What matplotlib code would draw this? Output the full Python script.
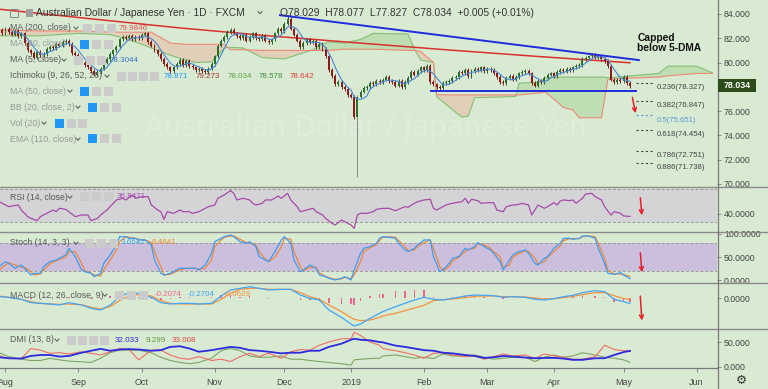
import numpy as np
import pandas as pd
import matplotlib
matplotlib.use("Agg")
import matplotlib.pyplot as plt
from matplotlib.patches import Rectangle
from matplotlib.lines import Line2D

# ---------------- data ----------------
# daily closes, bar 0 = 30 Jul 2018 ... bar 199 = 3 May 2019
closes = [
    82.7, 82.4, 82.8, 82.5, 82.3, 82.6, 82.2, 82.4, 81.6, 81.0,
    80.8, 80.4, 80.9, 80.6, 80.7, 81.1, 81.3, 81.2, 81.5, 81.4,
    81.7, 81.8, 81.5, 80.8, 80.6, 80.3, 80.0, 79.8, 79.6, 79.3,
    79.0, 79.2, 79.5, 80.0, 80.3, 80.7, 81.0, 81.3, 81.9, 82.1,
    82.0, 82.2, 81.9, 82.1, 82.0, 82.3, 82.4, 81.7, 81.4, 81.0,
    80.7, 80.3, 79.9, 79.6, 79.3, 79.6, 79.9, 80.2, 79.8, 80.1,
    79.7, 79.6, 79.4, 79.5, 79.3, 79.2, 79.5, 79.9, 80.5, 81.4,
    81.8, 82.1, 82.5, 82.7, 82.4, 82.2, 82.0, 82.3, 81.8, 82.1,
    82.4, 82.0, 81.9, 82.2, 81.8, 81.7, 81.9, 82.4, 82.8, 82.6,
    83.2, 83.6, 82.8, 82.3, 81.8, 81.3, 81.6, 81.9, 81.7, 81.8,
    81.3, 81.5, 81.1, 80.5, 79.4, 78.9, 78.2, 78.4, 78.0, 77.8,
    77.3, 77.2, 75.5, 77.2, 77.6, 77.9, 78.0, 78.3, 78.2, 78.5,
    78.4, 78.6, 78.8, 78.5, 78.4, 78.1, 78.5, 78.0, 78.4, 78.7,
    79.2, 79.0, 79.3, 79.6, 79.4, 79.7, 78.4, 78.2, 78.0, 77.9,
    78.3, 78.4, 78.5, 78.7, 78.8, 79.2, 79.1, 79.4, 78.9, 79.3,
    79.5, 79.4, 79.6, 79.3, 79.5, 79.4, 79.1, 78.8, 78.4, 78.3,
    78.7, 78.9, 78.6, 78.8, 79.1, 79.2, 79.3, 79.1, 78.3, 78.1,
    78.5, 78.4, 78.7, 79.0, 79.1, 78.9, 79.2, 79.4, 79.3, 79.5,
    79.4, 79.6, 79.7, 79.8, 80.3, 80.4, 80.5, 80.6, 80.4, 80.5,
    80.3, 80.1, 79.7, 78.6, 78.4, 78.6, 78.5, 78.8, 78.3, 78.034,
]
first_open = 82.6
wick = 0.15
crash_bar, crash_low = 113, 70.6
peak_bar, peak_high = 91, 83.9

# Ichimoku cloud (already shifted forward)
cloud_x = [0, 13, 25, 35, 41, 48, 54, 59, 62, 67,
           71, 73, 77, 83, 90, 99, 101, 104, 109, 114,
           118, 129, 131, 133, 137, 138, 144, 146, 148, 150,
           163, 164, 171, 172, 175, 178, 181, 183, 190, 192,
           197, 208, 211, 220, 225]
span_a = [82.2, 82.2, 82.4, 82.3, 81.9, 81.2, 80.6, 80.2, 80.0, 80.05,
          81.2, 81.25, 81.2, 80.4, 80.3, 81.05, 81.4, 81.7, 81.6, 81.9,
          82.4, 82.35, 81.1, 80.2, 80.0, 77.2, 75.9, 75.5, 75.6, 77.1,
          77.2, 78.3, 78.4, 78.7, 78.8, 78.8, 78.8, 78.8, 78.8, 78.75,
          78.85, 79.1, 79.7, 79.7, 79.15]
span_b = [82.7, 82.6, 82.6, 82.5, 82.5, 82.5, 81.6, 81.5, 81.5, 81.5,
          81.5, 81.05, 81.05, 81.0, 81.0, 81.0, 81.0, 81.0, 81.1, 81.1,
          81.1, 81.0, 81.0, 80.9, 80.0, 77.35, 77.33, 77.33, 77.33, 77.33,
          77.33, 77.33, 77.5, 77.6, 77.0, 76.3, 76.1, 75.45, 75.45, 78.6,
          78.7, 78.8, 78.9, 79.1, 79.1]

ma200_x = [0, 29, 57, 85, 112, 142, 171, 199]
ma200_v = [84.39, 83.6, 82.85, 82.2, 81.64, 81.03, 80.48, 79.98]

resist_x = [88.6, 201.8]
resist_y = [83.9, 80.2]
support_x = [136.2, 200.8]
support_y = [77.67, 77.67]

fib_ratio = ["0.236", "0.382", "0.5", "0.618", "0.786", "0.886"]
fib_price = [78.327, 76.847, 75.651, 74.454, 72.751, 71.738]

rsi_x = [0, 2, 3, 6, 7, 9, 10, 12, 13, 15, 17, 18, 19, 21, 22, 24, 26, 28, 29, 31,
         32, 34, 35, 37, 39, 40, 42, 43, 45, 47, 48, 50, 51, 52, 53, 55, 57, 58, 60, 61,
         63, 64, 66, 68, 69, 71, 73, 74, 75, 77, 79, 80, 81, 83, 84, 86, 88, 89, 91, 92,
         94, 95, 97, 99, 100, 102, 103, 105, 106, 108, 109, 111, 112, 113, 114, 116, 118, 119, 121, 123,
         125, 126, 128, 129, 131, 132, 134, 136, 137, 138, 139, 141, 142, 144, 146, 147, 148, 149, 151, 152,
         154, 156, 157, 159, 160, 162, 163, 165, 167, 168, 169, 170, 172, 173, 175, 176, 177, 178, 180, 181,
         182, 184, 185, 187, 188, 190, 191, 193, 194, 196, 197, 199]
rsi_v = [54.6, 50.6, 48.6, 50.6, 44.5, 36.5, 34.4, 31.6, 36.5, 40.5, 44.5, 42.5, 46.6, 45.3, 42.5, 36.5, 38.5, 38.5, 31.6, 34.4,
         38.5, 44.5, 48.6, 56.7, 58.7, 56.7, 62.7, 58.7, 60.7, 60.7, 50.6, 44.5, 42.5, 33.2, 42.5, 40.5, 44.5, 42.5, 42.5, 40.5,
         42.5, 44.5, 48.6, 50.6, 58.7, 62.7, 68.0, 64.7, 56.7, 58.7, 56.7, 52.6, 50.6, 52.6, 56.7, 56.7, 61.5, 58.7, 64.7, 56.7,
         48.6, 42.5, 44.5, 46.6, 42.5, 38.5, 34.4, 28.4, 26.4, 32.4, 30.4, 26.4, 22.3, 38.5, 40.5, 40.5, 42.5, 45.3, 46.5, 46.6,
         43.7, 45.3, 48.6, 47.8, 52.6, 54.6, 56.7, 57.5, 46.6, 44.5, 46.6, 50.6, 51.8, 53.4, 54.6, 58.7, 52.6, 57.5, 55.9, 52.6,
         53.4, 53.4, 44.5, 42.5, 48.6, 50.6, 50.6, 52.6, 50.6, 38.5, 44.5, 50.6, 46.6, 48.6, 53.4, 50.6, 55.4, 56.7, 55.9, 56.7,
         52.6, 58.7, 63.9, 64.7, 60.7, 56.7, 48.6, 38.5, 42.5, 40.5, 37.3, 36.8]

stoch_x = [0, 2, 3, 5, 7, 8, 10, 11, 13, 14, 16, 18, 19, 21, 22, 24, 26, 27, 29, 30,
           32, 33, 35, 37, 38, 40, 41, 43, 44, 46, 48, 49, 51, 52, 54, 55, 57, 59, 60, 62,
           63, 65, 67, 68, 70, 71, 73, 74, 76, 78, 79, 81, 82, 84, 85, 87, 89, 90, 92, 93,
           95, 96, 98, 100, 101, 103, 104, 106, 108, 109, 111, 112, 114, 115, 117, 119, 120, 121, 123, 125,
           126, 128, 129, 131, 132, 134, 136, 137, 139, 140, 142, 143, 145, 147, 148, 150, 151, 153, 155, 156,
           158, 159, 161, 162, 164, 166, 167, 169, 170, 172, 173, 175, 177, 178, 180, 181, 183, 184, 186, 188,
           189, 191, 192, 194, 196, 197, 199]
stoch_k = [29.4, 40.1, 36.5, 25.8, 32.9, 25.8, 11.5, 15.1, 15.1, 29.4, 40.1, 43.6, 47.2, 54.4, 68.6, 50.8, 22.2, 18.6, 15.1, 7.9,
           15.1, 36.5, 54.4, 75.8, 93.6, 93.6, 90.0, 90.0, 86.5, 86.5, 75.8, 43.6, 15.1, 11.5, 15.1, 18.6, 25.8, 25.8, 25.8, 25.8,
           22.2, 32.9, 57.9, 82.9, 90.0, 93.6, 97.2, 93.6, 82.9, 79.3, 82.9, 72.2, 50.8, 43.6, 40.1, 61.5, 86.5, 93.6, 79.3, 43.6,
           18.6, 22.2, 32.9, 25.8, 11.5, 7.9, 4.4, 0.8, 4.4, 7.9, 0.8, 22.2, 57.9, 68.6, 72.2, 79.3, 90.0, 93.6, 92.2, 90.0,
           79.3, 65.1, 61.5, 68.6, 75.8, 86.5, 86.5, 50.8, 18.6, 22.2, 36.5, 47.2, 50.8, 68.6, 65.1, 72.2, 80.8, 72.2, 65.1, 57.9,
           40.1, 22.2, 43.6, 54.4, 61.5, 65.1, 57.9, 36.5, 32.9, 47.2, 50.8, 68.6, 79.3, 90.0, 90.0, 87.9, 90.0, 95.0, 95.0, 90.0,
           68.6, 36.5, 15.1, 12.9, 16.5, 11.5, 3.7]
stoch_d = [22.2, 32.9, 37.9, 32.9, 27.9, 27.9, 18.6, 11.5, 13.7, 22.2, 35.1, 42.2, 45.1, 49.4, 61.5, 61.5, 36.5, 20.8, 15.1, 11.5,
           9.4, 22.2, 43.6, 65.1, 82.9, 93.6, 92.2, 90.0, 87.9, 86.5, 80.8, 61.5, 29.4, 11.5, 12.9, 16.5, 22.2, 25.8, 25.8, 25.8,
           23.6, 25.8, 43.6, 72.2, 86.5, 92.2, 95.0, 95.0, 87.9, 80.8, 80.8, 75.8, 61.5, 45.1, 40.1, 49.4, 72.2, 90.0, 87.9, 61.5,
           29.4, 20.8, 27.9, 27.9, 16.5, 7.9, 5.8, 2.2, 3.0, 6.5, 3.7, 11.5, 40.1, 61.5, 70.1, 75.8, 85.1, 92.2, 93.6, 92.2,
           85.1, 72.2, 63.6, 65.1, 72.2, 80.8, 86.5, 68.6, 29.4, 20.8, 29.4, 41.5, 49.4, 61.5, 66.5, 68.6, 77.9, 75.8, 68.6, 61.5,
           50.8, 27.9, 32.9, 49.4, 57.9, 63.6, 61.5, 47.2, 35.1, 40.1, 49.4, 61.5, 73.6, 85.1, 89.3, 89.3, 89.3, 93.6, 95.0, 93.6,
           79.3, 47.2, 22.2, 13.7, 13.7, 12.2, 8.5]

osc_x = [0, 3, 7, 10, 13, 16, 19, 22, 26, 29,
         32, 35, 38, 41, 44, 48, 51, 54, 57, 60,
         63, 67, 70, 73, 76, 79, 82, 85, 89, 92,
         95, 98, 101, 104, 108, 111, 112, 114, 117, 120,
         121, 125, 128, 131, 134, 137, 140, 143, 147, 150,
         153, 156, 159, 162, 166, 169, 172, 175, 178, 181,
         184, 188, 191, 194, 197, 199]
macd_line = [0.067, 0.033, -0.067, -0.233, -0.267, -0.300, -0.350, -0.233, -0.350, -0.517,
             -0.600, -0.350, 0.067, 0.267, 0.233, 0.033, -0.233, -0.300, -0.267, -0.267,
             -0.300, -0.267, 0.100, 0.400, 0.483, 0.567, 0.483, 0.400, 0.433, 0.433,
             0.150, -0.017, -0.100, -0.600, -0.967, -1.300, -1.400, -1.300, -1.017, -0.767,
             -0.683, -0.433, -0.267, -0.100, 0.033, -0.067, -0.100, -0.017, 0.100, 0.150,
             0.133, 0.117, 0.033, 0.067, 0.033, -0.067, -0.100, -0.033, 0.067, 0.133,
             0.267, 0.367, 0.317, -0.067, -0.183, -0.2704]
macd_signal = [0.100, 0.033, -0.067, -0.183, -0.267, -0.300, -0.317, -0.300, -0.333, -0.467,
               -0.550, -0.433, -0.133, 0.100, 0.167, 0.100, -0.133, -0.267, -0.300, -0.300,
               -0.300, -0.300, -0.067, 0.233, 0.433, 0.483, 0.483, 0.433, 0.433, 0.433,
               0.267, 0.067, -0.067, -0.350, -0.683, -0.983, -1.067, -1.133, -1.100, -0.967,
               -0.900, -0.767, -0.633, -0.500, -0.367, -0.133, -0.083, -0.050, 0.017, 0.083,
               0.100, 0.100, 0.067, 0.067, 0.050, 0.000, -0.050, -0.033, 0.017, 0.083,
               0.167, 0.267, 0.267, 0.117, -0.033, -0.0629]
adx = [19.5, 17.5, 16.9, 22.1, 24.0, 24.0, 20.8, 22.1, 28.6, 32.5,
       36.3, 32.5, 35.0, 35.7, 35.0, 32.5, 33.7, 40.2, 41.5, 37.0,
       30.5, 33.7, 37.0, 40.2, 38.3, 33.7, 32.5, 30.5, 27.3, 28.6,
       28.6, 32.5, 32.5, 40.2, 46.7, 54.5, 56.5, 54.5, 53.2, 50.0,
       49.3, 42.8, 40.2, 37.0, 33.7, 32.5, 28.6, 27.3, 24.0, 22.1,
       18.2, 19.5, 22.1, 20.8, 18.8, 17.5, 18.2, 18.2, 16.9, 14.3,
       14.3, 17.5, 17.5, 24.0, 29.9, 32.033]
di_plus = [28.6, 20.8, 15.6, 13.0, 13.0, 17.5, 14.3, 11.7, 10.4, 9.1,
           17.5, 28.6, 33.7, 33.7, 33.7, 28.6, 19.5, 13.0, 9.1, 6.5,
           9.1, 17.5, 32.5, 37.0, 32.5, 22.1, 19.5, 19.5, 22.1, 15.6,
           15.6, 13.0, 11.0, 9.1, 6.5, 3.9, 14.3, 15.6, 16.9, 17.5,
           22.1, 24.0, 20.8, 17.5, 19.5, 16.9, 26.0, 22.1, 22.1, 24.0,
           19.5, 15.6, 17.5, 19.5, 19.5, 11.0, 19.5, 24.0, 19.5, 22.1,
           28.6, 24.0, 19.5, 17.5, 14.3, 9.299]
di_minus = [22.1, 16.9, 16.9, 37.0, 33.7, 27.3, 28.6, 26.0, 30.5, 27.3,
            24.0, 30.5, 37.0, 35.0, 14.3, 33.7, 33.7, 24.0, 17.5, 15.6,
            20.8, 13.0, 15.6, 11.0, 20.8, 27.3, 20.8, 27.3, 17.5, 30.5,
            35.0, 33.7, 43.5, 50.0, 56.5, 56.5, 69.4, 63.0, 50.0, 43.5,
            37.0, 32.5, 28.6, 24.0, 17.5, 27.3, 28.6, 24.0, 20.8, 22.1,
            15.6, 20.8, 26.0, 22.1, 24.0, 16.9, 26.0, 22.1, 19.5, 15.6,
            15.6, 20.8, 43.5, 35.0, 32.5, 33.008]

month_bars = [2, 25, 45, 68, 90, 111, 134, 154, 175, 197, 220]
month_labels = ["Aug", "Sep", "Oct", "Nov", "Dec", "2019", "Feb", "Mar", "Apr", "May", "Jun"]

# ---------------- figure ----------------
W, H = 768, 389
BG = "#d9ead3"
fig = plt.figure(figsize=(W / 100, H / 100), dpi=100, facecolor=BG)
XL, XR = 0.265, 226.45
AXW = 717
SANS = "Liberation Sans"


def fx(x):
    return x / W


def fy(y):
    return 1 - y / H


def panel(top, bottom):
    ax = fig.add_axes([0, 1 - bottom / H, AXW / W, (bottom - top) / H])
    ax.set_facecolor(BG)
    for s in ax.spines.values():
        s.set_visible(False)
    ax.set_xlim(XL, XR)
    ax.tick_params(axis="x", bottom=False, labelbottom=False)
    ax.yaxis.tick_right()
    ax.tick_params(axis="y", right=True, left=False, length=3, width=0.6,
                   color="#777777", labelsize=6.3, labelcolor="#444444", pad=2)
    return ax


# ---- price panel ----
ax = panel(0, 186)
ax.set_ylim(69.83, 85.15)
pticks = [70, 72, 74, 76, 80, 82, 84]
ax.set_yticks(pticks)
ax.set_yticklabels([f"{v:.3f}" for v in pticks], fontfamily=SANS)

ax.text(0.51, 0.31, "Australian Dollar / Japanese Yen", transform=ax.transAxes, fontsize=20,
        color="white", alpha=0.16, ha="center", va="center", zorder=0.2)

cx = np.array(cloud_x, float)
ca = np.array(span_a)
cb = np.array(span_b)
ax.fill_between(cx, ca, cb, where=ca >= cb, interpolate=True, color="#bfdeb3", lw=0, zorder=1)
ax.fill_between(cx, ca, cb, where=ca < cb, interpolate=True, color="#e2cfb8", lw=0, zorder=1)
ax.plot(cx, ca, color="#82c074", lw=0.8, zorder=1.5)
ax.plot(cx, cb, color="#ea8a78", lw=0.8, zorder=1.5)

ax.plot(ma200_x, ma200_v, color="#d9302c", lw=1.1, zorder=2)

c = np.array(closes)
o = np.array([first_open] + closes[:-1])
idx = np.arange(len(c))
hi = np.maximum(o, c) + wick
lo = np.minimum(o, c) - wick
lo[crash_bar] = crash_low
hi[peak_bar] = peak_high
up = c >= o
cols = np.where(up, "#2f6e2f", "#8e1b1b")
wcols = np.where(up, "#2f5a2f", "#6e2020").astype(object)
wcols[crash_bar] = "#888888"
ax.vlines(idx, lo, hi, colors=list(wcols), lw=0.7, zorder=3)
ax.bar(idx, np.maximum(np.abs(c - o), 0.05), bottom=np.minimum(o, c), width=0.62,
       color=list(cols), lw=0, zorder=3.2)

ma5 = pd.Series(closes).rolling(5).mean()
ax.plot(idx, ma5, color="#4a86d4", lw=0.8, zorder=3.5)

ax.plot(resist_x, resist_y, color="#1f2bdc", lw=1.4, zorder=4)
ax.plot(support_x, support_y, color="#1f2bdc", lw=1.4, zorder=4)

for r, p in zip(fib_ratio, fib_price):
    col = "#5b9bd5" if r == "0.5" else "#444444"
    ax.plot([200.9, 206.3], [p, p], color=col, lw=0.8, ls=(0, (2, 2.2)), zorder=4)
    ax.annotate(f"{r}({p:.3f})", xy=(207.5, p), xytext=(0, -5), textcoords="offset pixels",
                fontsize=5.6, color=col, ha="left", va="center", fontfamily=SANS, zorder=5)

ax.annotate("", xy=(200.9, 75.6), xytext=(199.6, 77.35),
            arrowprops=dict(arrowstyle="->", color="#e8202a", lw=1.1, mutation_scale=7), zorder=5)
ax.text(201.3, 81.6, "Capped\nbelow 5-DMA", fontsize=7.4, fontweight="bold", fontfamily=SANS,
        color="#111111", ha="left", va="center", linespacing=1.05, zorder=5)

# ---- RSI ----
axr = panel(187, 231)
axr.set_ylim(19.1, 72.4)
axr.axhspan(30, 70, color="#d4d4d7", lw=0, zorder=0.5)
for lv in (30, 70):
    axr.axhline(lv, color="#9a9a9a", lw=0.7, ls=(0, (3, 2)), zorder=1)
axr.plot(rsi_x, rsi_v, color="#a64aa8", lw=0.9, zorder=2)
axr.set_yticks([40])
axr.set_yticklabels(["40.0000"], fontfamily=SANS)
axr.annotate("", xy=(202.8, 34.8), xytext=(202.2, 62.7),
             arrowprops=dict(arrowstyle="->", color="#e8202a", lw=1.1, mutation_scale=7))

# ---- Stoch ----
axs = panel(232, 283)
axs.set_ylim(-5.7, 103.6)
axs.axhspan(20, 80, color="#ccbfdd", lw=0, zorder=0.5)
for lv in (20, 80):
    axs.axhline(lv, color="#9a9a9a", lw=0.7, ls=(0, (3, 2)), zorder=1)
axs.plot(stoch_x, stoch_k, color="#3d9df5", lw=0.9, zorder=2.1)
axs.plot(stoch_x, stoch_d, color="#f0873a", lw=0.9, zorder=2)
axs.set_yticks([0, 50, 100])
axs.set_yticklabels(["0.0000", "50.0000", "100.0000"], fontfamily=SANS)
axs.annotate("", xy=(202.8, 11.4), xytext=(202.2, 65),
             arrowprops=dict(arrowstyle="->", color="#e8202a", lw=1.1, mutation_scale=7))

# ---- MACD ----
axm = panel(283, 328)
axm.set_ylim(-1.5, 0.75)
hist = np.array(macd_line) - np.array(macd_signal)
axm.bar(osc_x, hist, width=0.5, color="#f06292", lw=0, zorder=1)
axm.plot(osc_x, macd_line, color="#42a5f5", lw=0.9, zorder=2.1)
axm.plot(osc_x, macd_signal, color="#f5923e", lw=0.9, zorder=2)
axm.set_yticks([0])
axm.set_yticklabels(["0.0000"], fontfamily=SANS)
axm.annotate("", xy=(202.8, -1.265), xytext=(202.2, 0.235),
             arrowprops=dict(arrowstyle="->", color="#e8202a", lw=1.1, mutation_scale=7))

# ---- DMI ----
axd = panel(329, 368)
axd.set_ylim(-2, 76)
axd.plot(osc_x, di_plus, color="#7fa563", lw=0.8, zorder=2)
axd.plot(osc_x, di_minus, color="#ee6e62", lw=0.8, zorder=2.1)
axd.plot(osc_x, adx, color="#2a2ade", lw=1.3, zorder=2.2)
axd.set_yticks([0, 50])
axd.set_yticklabels(["0.000", "50.000"], fontfamily=SANS)
axd.set_xticks(month_bars)
axd.set_xticklabels(month_labels, fontfamily=SANS)
axd.tick_params(axis="x", bottom=True, labelbottom=True, length=3, width=0.6, color="#777777",
                labelsize=6.4, labelcolor="#444444", pad=4.5)

# ---- separators / frame ----
for yy in (186.5, 231.5, 282.5, 328.5):
    fig.add_artist(Line2D([0, 1], [fy(yy), fy(yy)], color="#8a8a8a", lw=1.0,
                          transform=fig.transFigure))
fig.add_artist(Line2D([0, fx(AXW)], [fy(368.3), fy(368.3)], color="#7a7a7a", lw=0.9,
                      transform=fig.transFigure))
fig.add_artist(Line2D([fx(717.5), fx(717.5)], [0, 1], color="#7a7a7a", lw=0.9,
                      transform=fig.transFigure))

# last price tag
fig.add_artist(Rectangle((fx(718), fy(92)), 38 / W, 13 / H, transform=fig.transFigure,
                         fc="#2c4c1c", ec="none", zorder=6))
fig.text(fx(737), fy(85.5), "78.034", fontsize=6.4, fontweight="bold", color="white",
         ha="center", va="center", fontfamily=SANS, zorder=7)

fig.text(fx(741), fy(380), "\u2699", fontsize=9, color="#333333", ha="center", va="center")

# ---- header & legends ----
def icon(x, y, col):
    fig.add_artist(Rectangle((fx(x), fy(y + 4.5)), 8.5 / W, 9 / H, transform=fig.transFigure,
                             fc=col, ec="none", zorder=6))


def chevron(x, y):
    fig.add_artist(Line2D([fx(x - 2), fx(x), fx(x + 2)], [fy(y - 1), fy(y + 1.3), fy(y - 1)],
                          color="#555555", lw=0.7, transform=fig.transFigure, zorder=6))


fig.add_artist(Rectangle((fx(10), fy(16.5)), 8 / W, 8 / H, transform=fig.transFigure,
                         fc="none", ec="#888888", lw=0.7, zorder=6))
fig.add_artist(Rectangle((fx(26), fy(16.5)), 7 / W, 8 / H, transform=fig.transFigure,
                         fc="#a0a0a0", ec="none", zorder=6))
fig.text(fx(36), fy(12.5), "Australian Dollar / Japanese Yen \u00b7 1D \u00b7 FXCM",
         fontsize=7.4, color="#333333", va="center", fontfamily=SANS, zorder=7)
chevron(260, 12.5)
fig.text(fx(280), fy(12.5), "O78.029  H78.077  L77.827  C78.034  +0.005 (+0.01%)",
         fontsize=7.4, color="#333333", va="center", fontfamily=SANS, zorder=7)

GRAY_IC, BLUE_IC = "#cbcbcb", "#2196f3"
rows = [
    (28, "MA (200, close)", "#5a5a5a", 76, [(83, 0), (95, 0), (107, 0)], [(119, "79.9846", "#e05050")]),
    (44, "MA (20, close)", "#9a9a9a", None, [(80, 1), (92, 0), (104, 0)], []),
    (60, "MA (5, close)", "#5a5a5a", 64, [(74, 0), (86, 0), (97, 0)], [(110, "78.3044", "#3a6fc8")]),
    (76, "Ichimoku (9, 26, 52, 26)", "#5a5a5a", 107, [(117, 0), (128, 0), (139, 0), (150, 0)],
     [(164, "78.871", "#2196f3"), (196, "79.273", "#a83232"), (228, "78.034", "#5ea045"),
      (259, "78.578", "#3f8f3a"), (290, "78.642", "#e53935")]),
    (91, "MA (50, close)", "#9a9a9a", 70, [(80, 1), (92, 0), (104, 0)], []),
    (107, "BB (20, close, 2)", "#9a9a9a", 78, [(88, 1), (100, 0), (112, 0)], []),
    (123, "Vol (20)", "#9a9a9a", 44, [(55, 1), (67, 0), (78, 0)], []),
    (139, "EMA (110, close)", "#9a9a9a", 78, [(88, 1), (100, 0), (112, 0)], []),
    (197, "RSI (14, close)", "#5a5a5a", 70, [(80, 0), (92, 0), (104, 0)], [(117, "36.8471", "#a64aa8")]),
    (243, "Stoch (14, 3, 3)", "#5a5a5a", 76, [(85, 0), (97, 0), (109, 0)],
     [(121, "3.6642", "#3d9df5"), (152, "8.4841", "#f0873a")]),
    (295, "MACD (12, 26, close, 9)", "#5a5a5a", 105, [(115, 0), (127, 0), (139, 0)],
     [(155, "-0.2074", "#f06292"), (188, "-0.2704", "#42a5f5"), (224, "-0.0629", "#f5923e")]),
    (340, "DMI (13, 8)", "#5a5a5a", 57, [(67, 0), (78, 0), (89, 0), (100, 0)],
     [(115, "32.033", "#2a2ade"), (146, "9.299", "#5e9a45"), (172, "33.008", "#e04848")]),
]
for y, label, col, chev, icons, vals in rows:
    fig.text(fx(10), fy(y), label, fontsize=6.3, color=col, va="center", fontfamily=SANS, zorder=7)
    if chev is not None:
        chevron(chev, y)
    for x, kind in icons:
        icon(x, y, BLUE_IC if kind else GRAY_IC)
    for x, txt, vc in vals:
        fig.text(fx(x), fy(y), txt, fontsize=5.8, color=vc, va="center", fontfamily=SANS, zorder=7)

fig.savefig("out.png", dpi=100, facecolor=BG)
